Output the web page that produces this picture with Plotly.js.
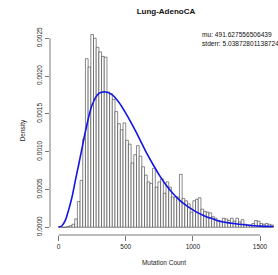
<!DOCTYPE html>
<html>
<head>
<meta charset="utf-8">
<script src="https://cdn.plot.ly/plotly-3.0.1.min.js"></script>
<style>html,body{margin:0;padding:0;background:#fff;}#chart{width:278px;height:275px;}</style>
</head>
<body>
<div id="chart"></div>
<script>
// Histogram bins (width 20, starting at 0) and density heights
var binWidth = 20;
var binDensity = [
  0.00001, 0.0, 0.0, 0.00001, 0.00002, 0.00004, 0.00011, 0.00034, 0.00062, 0.00117,
  0.00223, 0.00212, 0.00255, 0.00250, 0.00238, 0.00232, 0.00226, 0.00225, 0.00179, 0.00177,
  0.00169, 0.00153, 0.00137, 0.00129, 0.00138, 0.00115, 0.00110, 0.00085, 0.00096, 0.00108,
  0.00094, 0.00080, 0.00069, 0.00060, 0.00058, 0.00078, 0.00053, 0.00060, 0.00064, 0.00045,
  0.00060, 0.00053, 0.00040, 0.00040, 0.00040, 0.00070, 0.00038, 0.00035, 0.00031, 0.00020,
  0.00035, 0.00037, 0.00039, 0.00024, 0.00021, 0.00020, 0.00019, 0.00014, 0.00012, 0.00009,
  0.00008, 0.00012, 0.00011, 0.00009, 0.00012, 0.00008, 0.00012, 0.00007, 0.00010, 0.00004,
  0.00003, 0.00003, 0.00005, 0.00009, 0.00008, 0.00005, 0.00004, 0.00005, 0.00004, 0.00003
];
var binStarts = binDensity.map(function(d, i){ return i * binWidth; });

// Fitted density curve
var curveX = [0, 25, 50, 75, 100, 125, 150, 175, 200, 250, 300, 350, 400, 450, 500, 550, 600,
  650, 700, 750, 800, 850, 900, 950, 1000, 1050, 1100, 1150, 1200, 1300, 1400, 1500, 1600];
var curveY = [0, 0.00002, 0.00009, 0.00023, 0.00040, 0.00062, 0.00083, 0.00105, 0.00127, 0.00162,
  0.00177, 0.00179, 0.00175, 0.00165, 0.00151, 0.00135, 0.00118, 0.00100, 0.00084, 0.00069,
  0.00056, 0.00045, 0.00036, 0.00029, 0.00023, 0.00018, 0.00014, 0.00011, 0.00008, 0.00005,
  0.00003, 0.000015, 0.00001];

var xTickVals = [0, 500, 1000, 1500];
var xTickText = ['0', '500', '1000', '1500'];
var yTickVals = [0, 0.0005, 0.0010, 0.0015, 0.0020, 0.0025];
var yTickText = ['0.0000', '0.0005', '0.0010', '0.0015', '0.0020', '0.0025'];

var titleText = 'Lung-AdenoCA';
var muText = 'mu: 491.627556506439';
var stderrText = 'stderr: 5.03872801138724';

var font = 'Liberation Sans, Arial, sans-serif';

var traces = [
  {
    type: 'bar', x: binStarts, y: binDensity, width: binWidth, offset: 0,
    marker: { color: '#ffffff', line: { color: '#3a3a3a', width: 0.6 } },
    hoverinfo: 'skip', showlegend: false
  },
  {
    type: 'scatter', mode: 'lines', x: curveX, y: curveY,
    line: { color: '#1414e6', width: 1.6, shape: 'spline', smoothing: 0.8 },
    hoverinfo: 'skip', showlegend: false
  }
];

var layout = {
  width: 278, height: 275,
  margin: { l: 50, r: 0, t: 26, b: 40, pad: 0 },
  paper_bgcolor: '#ffffff', plot_bgcolor: '#ffffff',
  font: { family: font, color: '#222', size: 6.5 },
  title: { text: '<b>' + titleText + '</b>', font: { size: 8, color: '#111', family: font },
           xref: 'container', x: 0.597, xanchor: 'center', yref: 'container', y: 0.961, yanchor: 'middle' },
  xaxis: {
    range: [-64, 1634], tickvals: xTickVals, ticktext: xTickText,
    showgrid: false, zeroline: false, showline: false,
    ticks: 'outside', ticklen: 5, tickcolor: '#555', tickwidth: 0.8,
    tickfont: { size: 6.5, color: '#222' },
    title: { text: 'Mutation Count', font: { size: 6.5, color: '#222' }, standoff: 11 }
  },
  yaxis: {
    range: [-0.0001024, 0.0026624], tickvals: yTickVals, ticktext: yTickText, tickangle: -90,
    showgrid: false, zeroline: false, showline: false,
    ticks: 'outside', ticklen: 4, tickcolor: '#555', tickwidth: 0.8,
    tickfont: { size: 6.5, color: '#222' },
    title: { text: 'Density', font: { size: 6.5, color: '#222' }, standoff: 10 }
  },
  shapes: [
    { type: 'line', xref: 'x', yref: 'paper', x0: 0, x1: 1500, y0: 0, y1: 0, line: { color: '#555', width: 0.8 } },
    { type: 'line', xref: 'paper', yref: 'y', x0: 0, x1: 0, y0: 0, y1: 0.0025, line: { color: '#555', width: 0.8 } }
  ],
  annotations: [
    { text: muText, xref: 'paper', yref: 'paper', x: 0.658, y: 0.957, xanchor: 'left', yanchor: 'middle',
      showarrow: false, font: { size: 6.6, color: '#111' } },
    { text: stderrText, xref: 'paper', yref: 'paper', x: 0.658, y: 0.914, xanchor: 'left', yanchor: 'middle',
      showarrow: false, font: { size: 6.6, color: '#111' } }
  ],
  bargap: 0
};

Plotly.newPlot('chart', traces, layout, { displayModeBar: false, staticPlot: true });
</script>
</body>
</html>
